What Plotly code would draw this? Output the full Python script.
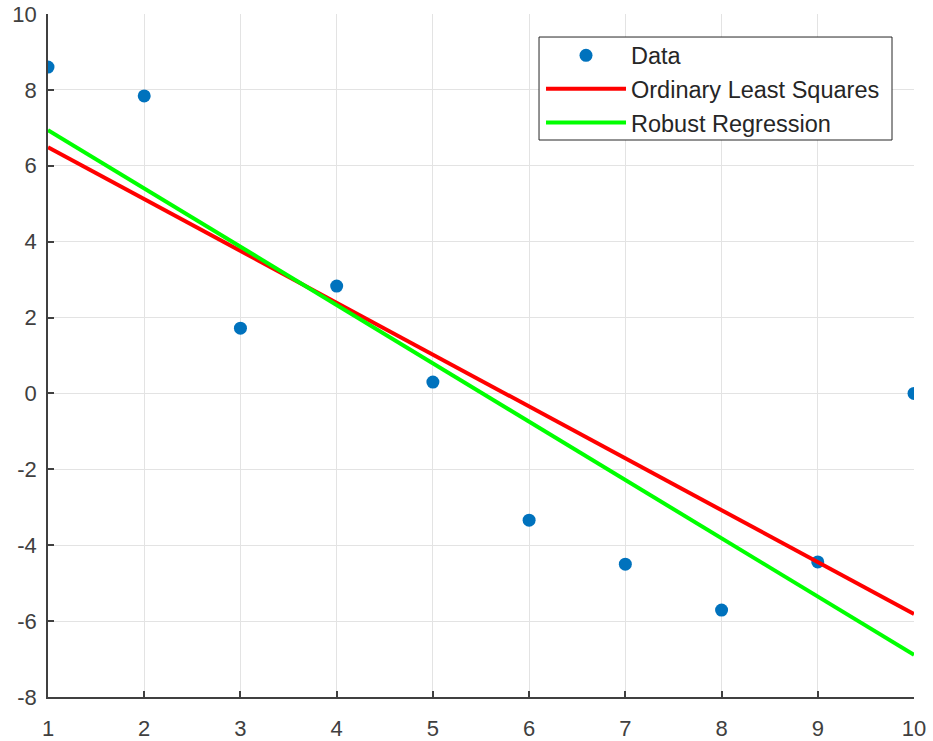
import plotly.graph_objects as go

x_data = [1, 2, 3, 4, 5, 6, 7, 8, 9, 10]
y_data = [8.6, 7.84, 1.72, 2.83, 0.30, -3.34, -4.5, -5.71, -4.44, 0.0]

line_x = [1, 10]
ols_y = [6.49, -5.81]
robust_y = [6.94, -6.89]

x_ticks = [1, 2, 3, 4, 5, 6, 7, 8, 9, 10]
x_ticktext = ["1", "2", "3", "4", "5", "6", "7", "8", "9", "10"]
y_ticks = [-8, -6, -4, -2, 0, 2, 4, 6, 8, 10]
y_ticktext = ["-8", "-6", "-4", "-2", "0", "2", "4", "6", "8", "10"]

FONT = "Liberation Sans, Arial, Helvetica, sans-serif"

fig = go.Figure()
fig.add_trace(go.Scatter(x=x_data, y=y_data, mode="markers", name="Data",
                         marker=dict(color="#0072BD", size=13)))
fig.add_trace(go.Scatter(x=line_x, y=ols_y, mode="lines", name="Ordinary Least Squares",
                         line=dict(color="#FF0000", width=4)))
fig.add_trace(go.Scatter(x=line_x, y=robust_y, mode="lines", name="Robust Regression",
                         line=dict(color="#00FF00", width=4)))

axis_common = dict(showgrid=True, gridcolor="#e3e3e3", gridwidth=1,
                   showline=True, linecolor="#404040", linewidth=1.5,
                   ticks="inside", ticklen=6, tickcolor="#404040", tickwidth=1.5,
                   tickfont=dict(family=FONT, size=22, color="#404040"),
                   ticklabeloverflow="allow",
                   zeroline=False, mirror=False, automargin=False)

fig.update_xaxes(range=[1, 10], tickvals=x_ticks, ticktext=x_ticktext,
                 ticklabelstandoff=11, **axis_common)
fig.update_yaxes(range=[-8, 10], tickvals=y_ticks, ticktext=y_ticktext,
                 ticklabelstandoff=5, **axis_common)

# legend frame (drawn as a box so its size matches the original)
fig.add_shape(type="rect", xref="paper", yref="paper",
              x0=0.567, x1=0.9746, y0=0.8155, y1=0.9663,
              line=dict(color="#262626", width=1), fillcolor="white", layer="above")

fig.update_layout(
    width=933, height=741,
    margin=dict(l=48, r=19, t=14, b=44),
    plot_bgcolor="white", paper_bgcolor="white",
    font=dict(family=FONT, size=23.5, color="#262626"),
    legend=dict(x=0.5693, y=0.9714, xanchor="left", yanchor="top",
                bgcolor="rgba(0,0,0,0)", borderwidth=0,
                itemwidth=80, font=dict(family=FONT, size=23.5, color="#262626"),
                tracegroupgap=0),
    showlegend=True,
)

fig.write_html("out.html",
               config={"displayModeBar": False},
               post_script="document.body.style.margin='0';document.body.style.overflow='hidden';")
